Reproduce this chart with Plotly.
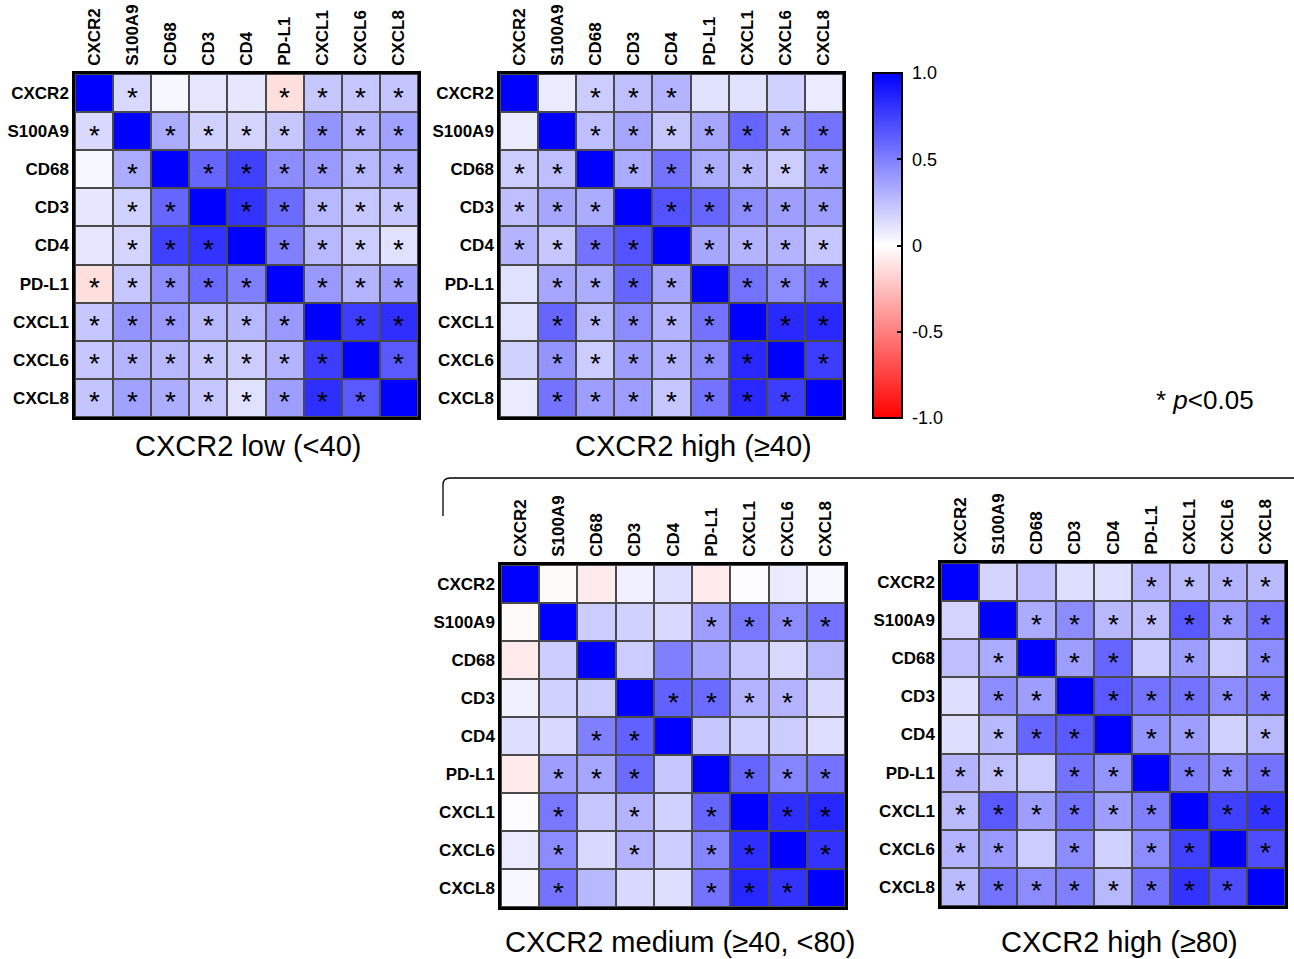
import plotly.graph_objects as go

genes = ["CXCR2", "S100A9", "CD68", "CD3", "CD4", "PD-L1", "CXCL1", "CXCL6", "CXCL8"]

panel_titles = ["CXCR2 low (&lt;40)", "CXCR2 high (≥40)",
                "CXCR2 medium (≥40, &lt;80)", "CXCR2 high (≥80)"]

# correlation coefficients
low_r = [
    [1.00, 0.15, 0.03, 0.10, 0.10, -0.13, 0.22, 0.22, 0.23],
    [0.15, 1.00, 0.33, 0.18, 0.17, 0.22, 0.42, 0.30, 0.37],
    [0.03, 0.33, 1.00, 0.60, 0.75, 0.45, 0.40, 0.28, 0.32],
    [0.10, 0.18, 0.60, 1.00, 0.80, 0.58, 0.28, 0.22, 0.22],
    [0.10, 0.17, 0.75, 0.80, 1.00, 0.50, 0.28, 0.20, 0.12],
    [-0.13, 0.22, 0.45, 0.58, 0.50, 1.00, 0.40, 0.30, 0.38],
    [0.22, 0.42, 0.40, 0.28, 0.28, 0.40, 1.00, 0.76, 0.82],
    [0.22, 0.30, 0.28, 0.22, 0.20, 0.30, 0.76, 1.00, 0.65],
    [0.23, 0.37, 0.32, 0.22, 0.12, 0.38, 0.82, 0.65, 1.00],
]
low_sig = [
    [0, 1, 0, 0, 0, 1, 1, 1, 1],
    [1, 0, 1, 1, 1, 1, 1, 1, 1],
    [0, 1, 0, 1, 1, 1, 1, 1, 1],
    [0, 1, 1, 0, 1, 1, 1, 1, 1],
    [0, 1, 1, 1, 0, 1, 1, 1, 1],
    [1, 1, 1, 1, 1, 0, 1, 1, 1],
    [1, 1, 1, 1, 1, 1, 0, 1, 1],
    [1, 1, 1, 1, 1, 1, 1, 0, 1],
    [1, 1, 1, 1, 1, 1, 1, 1, 0],
]

high40_r = [
    [1.00, 0.08, 0.20, 0.25, 0.30, 0.12, 0.12, 0.18, 0.08],
    [0.08, 1.00, 0.25, 0.35, 0.22, 0.35, 0.60, 0.42, 0.55],
    [0.20, 0.25, 1.00, 0.33, 0.55, 0.32, 0.28, 0.20, 0.38],
    [0.25, 0.35, 0.33, 1.00, 0.68, 0.60, 0.45, 0.38, 0.38],
    [0.30, 0.22, 0.55, 0.68, 1.00, 0.35, 0.30, 0.30, 0.22],
    [0.12, 0.35, 0.32, 0.60, 0.35, 1.00, 0.55, 0.45, 0.55],
    [0.12, 0.60, 0.28, 0.45, 0.30, 0.55, 1.00, 0.84, 0.84],
    [0.18, 0.42, 0.20, 0.38, 0.30, 0.45, 0.84, 1.00, 0.76],
    [0.08, 0.55, 0.38, 0.38, 0.22, 0.55, 0.84, 0.76, 1.00],
]
high40_sig = [
    [0, 0, 1, 1, 1, 0, 0, 0, 0],
    [0, 0, 1, 1, 1, 1, 1, 1, 1],
    [1, 1, 0, 1, 1, 1, 1, 1, 1],
    [1, 1, 1, 0, 1, 1, 1, 1, 1],
    [1, 1, 1, 1, 0, 1, 1, 1, 1],
    [0, 1, 1, 1, 1, 0, 1, 1, 1],
    [0, 1, 1, 1, 1, 1, 0, 1, 1],
    [0, 1, 1, 1, 1, 1, 1, 0, 1],
    [0, 1, 1, 1, 1, 1, 1, 1, 0],
]

medium_r = [
    [1.00, -0.02, -0.08, 0.06, 0.13, -0.08, 0.01, 0.08, 0.03],
    [-0.02, 1.00, 0.20, 0.18, 0.15, 0.38, 0.53, 0.45, 0.55],
    [-0.08, 0.20, 1.00, 0.20, 0.50, 0.35, 0.22, 0.15, 0.28],
    [0.06, 0.18, 0.20, 1.00, 0.62, 0.58, 0.30, 0.30, 0.15],
    [0.13, 0.15, 0.50, 0.62, 1.00, 0.22, 0.18, 0.20, 0.13],
    [-0.08, 0.38, 0.35, 0.58, 0.22, 1.00, 0.60, 0.48, 0.55],
    [0.01, 0.53, 0.22, 0.30, 0.18, 0.60, 1.00, 0.82, 0.85],
    [0.08, 0.45, 0.15, 0.30, 0.20, 0.48, 0.82, 1.00, 0.80],
    [0.03, 0.55, 0.28, 0.15, 0.13, 0.55, 0.85, 0.80, 1.00],
]
medium_sig = [
    [0, 0, 0, 0, 0, 0, 0, 0, 0],
    [0, 0, 0, 0, 0, 1, 1, 1, 1],
    [0, 0, 0, 0, 0, 0, 0, 0, 0],
    [0, 0, 0, 0, 1, 1, 1, 1, 0],
    [0, 0, 1, 1, 0, 0, 0, 0, 0],
    [0, 1, 1, 1, 0, 0, 1, 1, 1],
    [0, 1, 0, 1, 0, 1, 0, 1, 1],
    [0, 1, 0, 1, 0, 1, 1, 0, 1],
    [0, 1, 0, 0, 0, 1, 1, 1, 0],
]

high80_r = [
    [1.00, 0.17, 0.25, 0.13, 0.13, 0.30, 0.27, 0.30, 0.27],
    [0.17, 1.00, 0.33, 0.45, 0.28, 0.25, 0.65, 0.40, 0.55],
    [0.25, 0.33, 1.00, 0.38, 0.60, 0.20, 0.38, 0.20, 0.45],
    [0.13, 0.45, 0.38, 1.00, 0.65, 0.55, 0.55, 0.45, 0.50],
    [0.13, 0.28, 0.60, 0.65, 1.00, 0.42, 0.38, 0.18, 0.28],
    [0.30, 0.25, 0.20, 0.55, 0.42, 1.00, 0.50, 0.45, 0.55],
    [0.27, 0.65, 0.38, 0.55, 0.38, 0.50, 1.00, 0.75, 0.80],
    [0.30, 0.40, 0.20, 0.45, 0.18, 0.45, 0.75, 1.00, 0.70],
    [0.27, 0.55, 0.45, 0.50, 0.28, 0.55, 0.80, 0.70, 1.00],
]
high80_sig = [
    [0, 0, 0, 0, 0, 1, 1, 1, 1],
    [0, 0, 1, 1, 1, 1, 1, 1, 1],
    [0, 1, 0, 1, 1, 0, 1, 0, 1],
    [0, 1, 1, 0, 1, 1, 1, 1, 1],
    [0, 1, 1, 1, 0, 1, 1, 0, 1],
    [1, 1, 0, 1, 1, 0, 1, 1, 1],
    [1, 1, 1, 1, 1, 1, 0, 1, 1],
    [1, 1, 0, 1, 0, 1, 1, 0, 1],
    [1, 1, 1, 1, 1, 1, 1, 1, 0],
]

colorbar_ticks = [-1, -0.5, 0, 0.5, 1]
colorbar_labels = ["-1.0", "-0.5", "0", "0.5", "1.0"]

W, H = 1294, 959
FONT = "Arial, Liberation Sans, sans-serif"


def px_x(p):
    return p / W


def px_y(p):
    return 1 - p / H


# panel boxes in pixels: (left, right, top, bottom)
boxes = [(75, 418, 74, 417), (500, 843, 74, 417),
         (501, 845, 565, 907), (941, 1285, 563, 906)]
mats = [low_r, high40_r, medium_r, high80_r]
sigs = [low_sig, high40_sig, medium_sig, high80_sig]

colorscale = [[0.0, "#FF0000"], [0.5, "#FFFFFF"], [1.0, "#0000FF"]]

fig = go.Figure()
idx = list(range(len(genes)))
annotations = []

for k, (m, s) in enumerate(zip(mats, sigs)):
    xa = "x" if k == 0 else f"x{k+1}"
    ya = "y" if k == 0 else f"y{k+1}"
    hm = dict(z=m, x=idx, y=idx, zmin=-1, zmax=1, colorscale=colorscale,
              xgap=2, ygap=2, xaxis=xa, yaxis=ya, hoverinfo="skip",
              showscale=(k == 1))
    if k == 1:
        hm["colorbar"] = dict(
            x=px_x(873), xanchor="left", xpad=0, ypad=0,
            y=px_y((73 + 418) / 2), yanchor="middle",
            len=345, lenmode="pixels", thickness=29, thicknessmode="pixels",
            outlinewidth=2, outlinecolor="black",
            tickvals=colorbar_ticks,
            ticktext=["\u00a0" + t for t in colorbar_labels],
            ticks="inside", ticklen=6, tickwidth=2, tickcolor="black",
            tickfont=dict(family=FONT, size=18, color="black"),
        )
    fig.add_trace(go.Heatmap(**hm))
    for i in range(len(genes)):
        for j in range(len(genes)):
            if s[i][j]:
                annotations.append(dict(
                    x=j, y=i, xref=xa, yref=ya, text="*", showarrow=False,
                    xanchor="center", yanchor="middle", yshift=-4,
                    font=dict(family=FONT, size=28, color="black")))

layout = dict(width=W, height=H, margin=dict(l=0, r=0, t=0, b=0),
              paper_bgcolor="white", plot_bgcolor="#4a4a4a",
              showlegend=False, font=dict(family=FONT, color="black"))

for k, (l, r, t, b) in enumerate(boxes):
    xk = "xaxis" if k == 0 else f"xaxis{k+1}"
    yk = "yaxis" if k == 0 else f"yaxis{k+1}"
    ya = "y" if k == 0 else f"y{k+1}"
    xa = "x" if k == 0 else f"x{k+1}"
    layout[xk] = dict(domain=[px_x(l), px_x(r)], anchor=ya, side="top",
                      range=[-0.5, 8.5], tickvals=idx, ticktext=genes,
                      tickangle=-90, showgrid=False, zeroline=False,
                      showline=True, mirror=True, linewidth=2.5, linecolor="black",
                      ticks="", ticklabelstandoff=2,
                      tickfont=dict(family=FONT, size=17, weight="bold", color="black"))
    layout[yk] = dict(domain=[px_y(b), px_y(t)], anchor=xa,
                      range=[8.5, -0.5], tickvals=idx, ticktext=genes,
                      showgrid=False, zeroline=False,
                      showline=True, mirror=True, linewidth=2.5, linecolor="black",
                      ticks="", ticklabelstandoff=0,
                      tickfont=dict(family=FONT, size=17, weight="bold", color="black"))

# panel titles
title_pos = [(248, 446), (694, 446), (680, 942), (1119, 942)]
for txt, (cx, cy) in zip(panel_titles, title_pos):
    annotations.append(dict(text=txt, x=px_x(cx), y=px_y(cy), xref="paper", yref="paper",
                            xanchor="center", yanchor="middle", showarrow=False,
                            font=dict(family=FONT, size=29, color="black")))

annotations.append(dict(text="* <i>p</i>&lt;0.05", x=px_x(1154), y=px_y(400),
                        xref="paper", yref="paper", xanchor="left", yanchor="middle",
                        showarrow=False, font=dict(family=FONT, size=26, color="black")))

layout["annotations"] = annotations

# bracket over the CXCR2 high split
layout["shapes"] = [dict(
    type="path", xref="paper", yref="paper",
    path=(f"M {px_x(443)},{px_y(516)} L {px_x(443)},{px_y(485)} "
          f"Q {px_x(443)},{px_y(478)} {px_x(450)},{px_y(478)} L 1,{px_y(478)}"),
    line=dict(color="black", width=1.3))]

fig.update_layout(**layout)
fig.write_html("out.html")
